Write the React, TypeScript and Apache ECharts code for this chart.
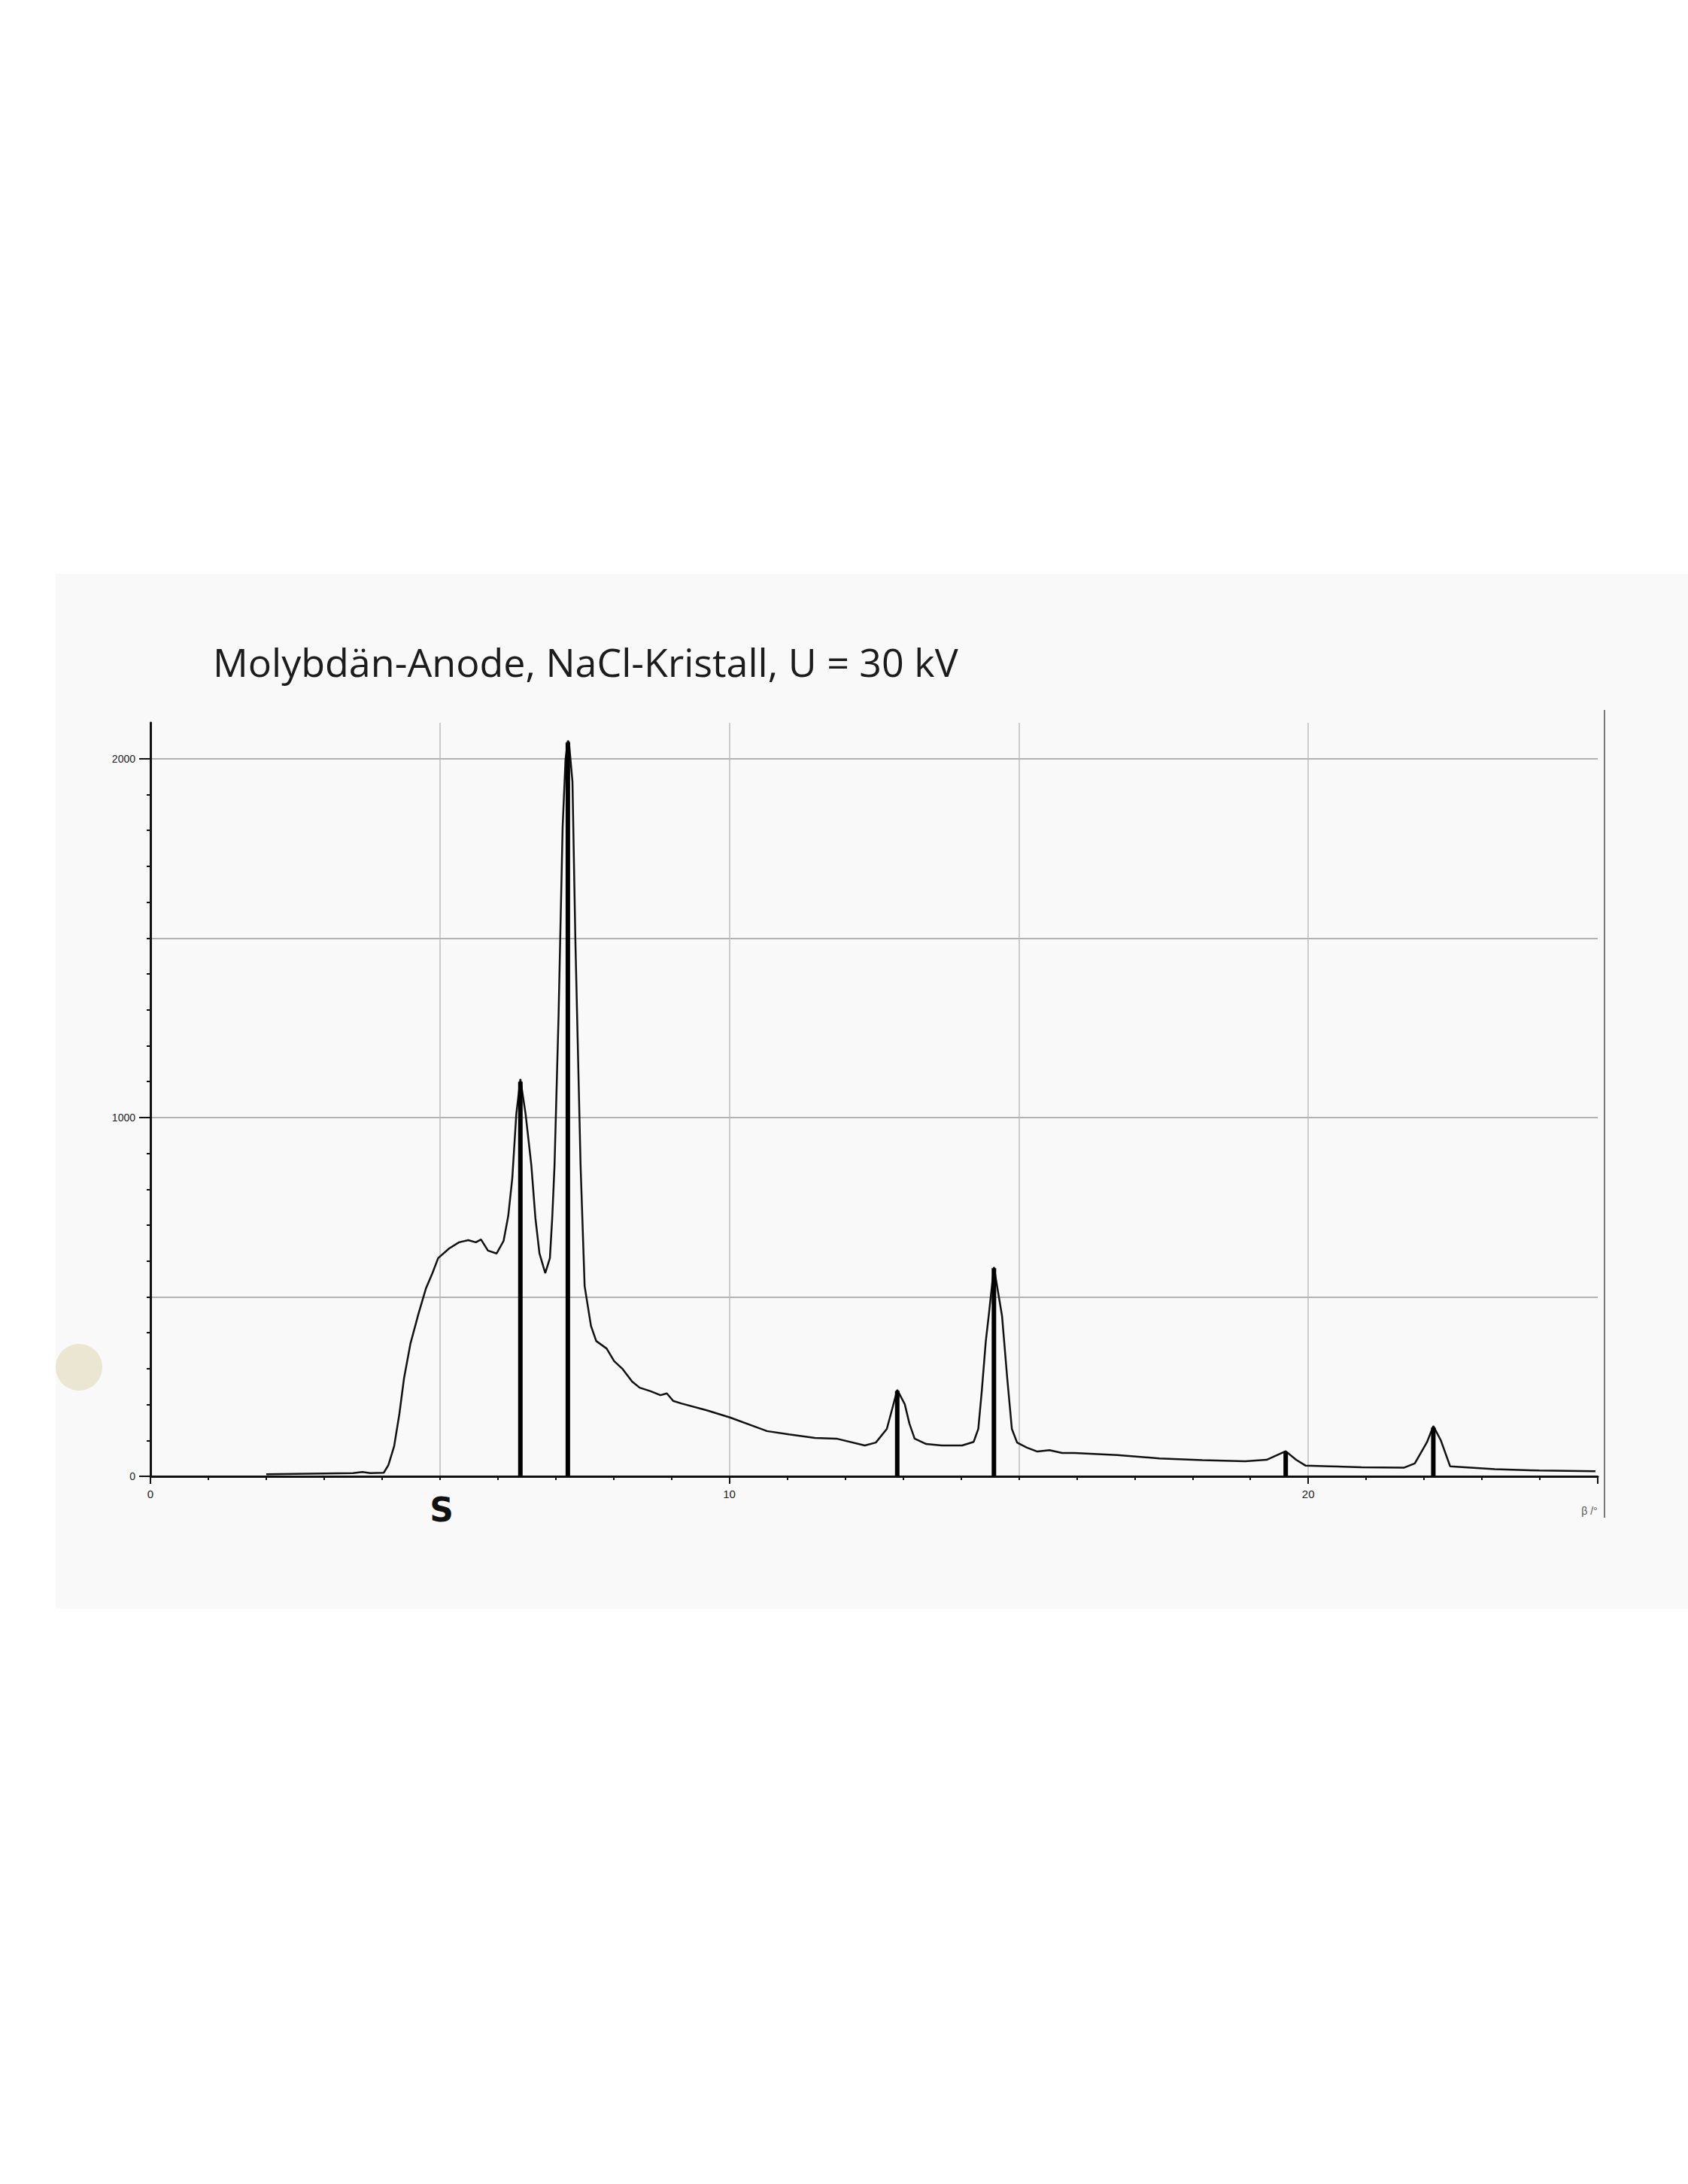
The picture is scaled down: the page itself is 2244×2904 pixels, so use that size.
import React, { useEffect, useRef } from "react";
import * as echarts from "echarts";

const TITLE = "Molybdän-Anode, NaCl-Kristall, U = 30 kV";
const X_NAME = "β /°";
const ANNOTATION = "S";

// Scan: angle beta (deg) and counting rate
const scanAngle = [
  2.0, 2.5, 3.0, 3.5, 3.66, 3.8, 4.03, 4.11, 4.21, 4.3, 4.38, 4.49, 4.63, 4.76, 4.87, 4.97,
  5.16, 5.33, 5.49, 5.62, 5.71, 5.83, 5.98, 6.1, 6.18, 6.25, 6.32, 6.39, 6.48, 6.58, 6.65,
  6.72, 6.82, 6.9, 6.94, 6.98, 7.05, 7.12, 7.17, 7.21, 7.23, 7.29, 7.34, 7.4, 7.43, 7.5,
  7.61, 7.7, 7.88, 8.01, 8.15, 8.32, 8.45, 8.64, 8.81, 8.92, 9.03, 9.17, 9.61, 10.01,
  10.65, 11.03, 11.48, 11.85, 12.34, 12.53, 12.72, 12.79, 12.9, 13.03, 13.11, 13.2, 13.4,
  13.67, 14.02, 14.22, 14.3, 14.36, 14.43, 14.48, 14.57, 14.71, 14.8, 14.88, 14.97, 15.14,
  15.32, 15.53, 15.75, 15.96, 16.7, 17.43, 18.17, 18.91, 19.28, 19.61, 19.79, 19.95, 20.37,
  20.92, 21.65, 21.84, 22.05, 22.16, 22.29, 22.45, 23.22, 23.99, 24.96,
];
const scanRate = [
  6, 7, 8, 9, 12, 9, 10, 31, 84, 174, 273, 369, 453, 524, 566, 608,
  635, 652, 658, 652, 660, 629, 621, 656, 725, 830, 1010, 1107, 1010, 866, 719,
  621, 566, 608, 719, 866, 1285, 1809, 1998, 2050, 2045, 1935, 1495, 1075, 866, 530,
  419, 377, 356, 321, 300, 264, 247, 237, 226, 231, 210, 203, 184, 164,
  126, 117, 107, 105, 86, 94, 132, 174, 241, 201, 147, 105, 90,
  86, 86, 96, 132, 237, 377, 447, 583, 447, 273, 132, 94, 80,
  69, 73, 65, 65, 59, 50, 45, 42, 46, 70, 46, 30, 28,
  25, 24, 36, 95, 140, 100, 28, 20, 16, 14,
];

// Hand-marked characteristic lines (K-beta / K-alpha, orders 1-3)
const lineAngle = [6.39, 7.21, 12.9, 14.57, 19.61, 22.16];
const lineRate = [1100, 2045, 238, 580, 68, 136];

const xLabelValues = [0, 10, 20];
const xTickValues = [0, 10, 20, 25];
const yLabelValues = [0, 1000, 2000];

export default function App() {
  const ref = useRef<HTMLDivElement>(null);

  useEffect(() => {
    const chart = echarts.init(ref.current!, null, { renderer: "svg" });
    const X0 = 200;
    const X1 = 2124;
    const Y0 = 1963;
    const YTOP = 961;
    const axisColor = "#111";
    const plain = (v: number) => String(v);

    chart.setOption({
      animation: false,
      backgroundColor: "#ffffff",
      title: {
        text: TITLE,
        left: 278,
        top: 848,
        textStyle: {
          fontFamily: "Open Sans",
          fontSize: 52,
          fontWeight: "normal",
          color: "#1c1c1c",
        },
      },
      grid: {
        left: X0,
        right: 2244 - X1,
        top: YTOP,
        bottom: 2904 - Y0,
        containLabel: false,
      },
      xAxis: [
        {
          type: "value",
          min: 0,
          max: 25,
          interval: 10,
          axisLine: { show: true, onZero: false, lineStyle: { color: axisColor, width: 3 } },
          axisTick: {
            show: true,
            customValues: xTickValues,
            length: 10,
            lineStyle: { color: axisColor, width: 2 },
          },
          minorTick: { show: true, splitNumber: 10, length: 5, lineStyle: { color: axisColor, width: 2 } },
          axisLabel: {
            customValues: xLabelValues,
            formatter: plain,
            margin: 16,
            fontSize: 15,
            color: "#222",
            fontFamily: "Liberation Sans",
          },
          splitLine: { show: false },
        },
        {
          type: "value",
          min: 0,
          max: 25,
          interval: 5,
          position: "bottom",
          axisLine: { show: false },
          axisTick: { show: false },
          axisLabel: { show: false },
          splitLine: {
            show: true,
            showMinLine: false,
            showMaxLine: false,
            lineStyle: { color: "#bdbdbd", width: 1.5 },
          },
        },
      ],
      yAxis: [
        {
          type: "value",
          min: 0,
          max: 2100,
          interval: 1000,
          axisLine: { show: true, onZero: false, lineStyle: { color: axisColor, width: 3 } },
          axisTick: {
            show: true,
            customValues: yLabelValues,
            length: 15,
            lineStyle: { color: axisColor, width: 2 },
          },
          minorTick: { show: true, splitNumber: 10, length: 5, lineStyle: { color: axisColor, width: 2 } },
          axisLabel: {
            customValues: yLabelValues,
            formatter: plain,
            margin: 20,
            fontSize: 14,
            color: "#222",
            fontFamily: "Liberation Sans",
          },
          splitLine: { show: false },
        },
        {
          type: "value",
          min: 0,
          max: 2100,
          interval: 500,
          position: "left",
          axisLine: { show: false },
          axisTick: { show: false },
          axisLabel: { show: false },
          splitLine: {
            show: true,
            showMinLine: false,
            showMaxLine: false,
            lineStyle: { color: "#9a9a9a", width: 1.5 },
          },
        },
      ],
      series: [
        {
          type: "line",
          xAxisIndex: 0,
          yAxisIndex: 0,
          data: scanAngle.map((x, i) => [x, scanRate[i]]),
          showSymbol: false,
          symbol: "none",
          lineStyle: { color: "#111", width: 2.5 },
          z: 3,
        },
        {
          type: "bar",
          xAxisIndex: 0,
          yAxisIndex: 0,
          data: lineAngle.map((x, i) => [x, lineRate[i]]),
          barWidth: 6,
          itemStyle: { color: "#000" },
          z: 4,
        },
      ],
      graphic: [
        {
          type: "rect",
          z: -100,
          shape: { x: 74, y: 763, width: 2170, height: 1376 },
          style: { fill: "#f9f9f9" },
          silent: true,
        },
        {
          type: "circle",
          shape: { cx: 105, cy: 1818, r: 31 },
          style: { fill: "#ebe6d1" },
          silent: true,
        },
        {
          type: "line",
          shape: { x1: 2133, y1: 944, x2: 2133, y2: 2018 },
          style: { stroke: "#7a7a7a", lineWidth: 2 },
          silent: true,
        },
        {
          type: "text",
          x: 2113,
          y: 2009,
          style: {
            text: X_NAME,
            align: "center",
            verticalAlign: "middle",
            fontSize: 14,
            fontFamily: "Liberation Sans",
            fill: "#555",
          },
        },
        {
          type: "text",
          x: 587,
          y: 2007,
          style: {
            text: ANNOTATION,
            align: "center",
            verticalAlign: "middle",
            fontSize: 44,
            fontWeight: "bold",
            fontFamily: "DejaVu Sans",
            fill: "#111",
          },
        },
      ],
    });

    return () => {
      chart.dispose();
    };
  }, []);

  return (
    <div
      ref={ref}
      style={{ position: "absolute", left: 0, top: 0, width: 2244, height: 2904 }}
    />
  );
}
